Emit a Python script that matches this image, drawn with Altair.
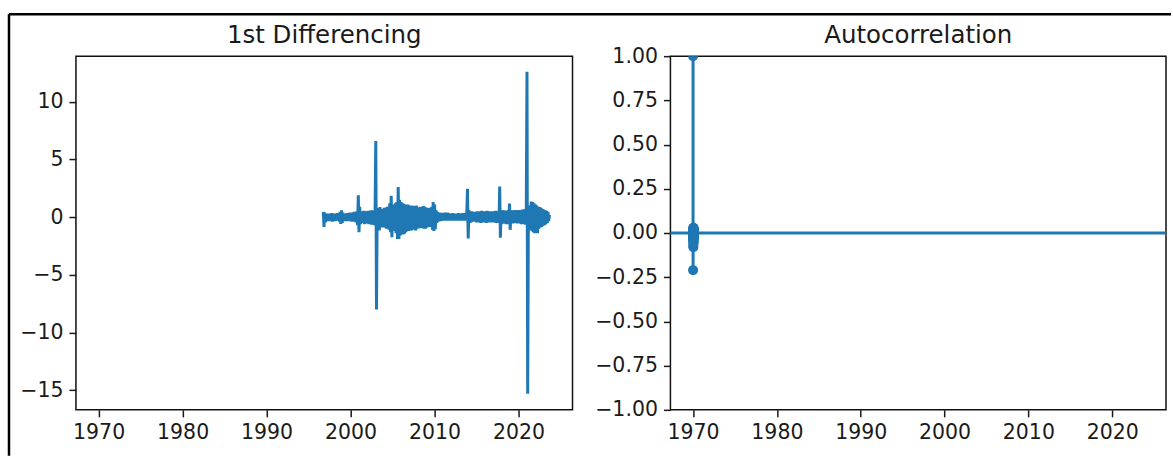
import altair as alt
import pandas as pd

# ---------------- data ----------------
BLUE = "#1f77b4"

# 1st differencing: one value per month, alternating around the band envelope
diff_start_year = 1996
diff_start_month = 10
diff_values = [
    0.45, -0.85, 0.40,                                                              # 1996 Oct-Dec
    -0.45, 0.30, -0.35, 0.28, -0.30, 0.30, -0.35, 0.30, -0.30, 0.35, -0.40, 0.30,   # 1997
    -0.30, 0.30, -0.35, 0.30, -0.30, 0.35, -0.30, 0.35, -0.40, 0.45, -0.58, 0.58,   # 1998
    -0.50, 0.40, -0.35, 0.30, -0.35, 0.30, -0.30, 0.35, -0.35, 0.30, -0.35, 0.40,   # 1999
    -0.35, 0.40, -0.40, 0.35, -0.40, 0.45, -0.40, 0.40, -0.45, 0.50, -0.70, 1.90,   # 2000
    -1.30, 0.90, -0.60, 0.50, -0.50, 0.45, -0.50, 0.55, -0.60, 0.50, -0.55, 0.50,   # 2001
    -0.50, 0.55, -0.60, 0.50, -0.55, 0.60, -0.65, 0.55, -0.60, 0.60, -0.70, 0.65,   # 2002
    6.60, -8.00, 0.80, -1.00, 0.70, -1.15, 0.87, -0.90, 0.60, -0.80, 0.70, -0.90,   # 2003
    0.80, -0.90, 0.70, -1.00, 0.90, -0.80, 0.85, -1.10, 1.20, -1.30, 1.85, -1.75,   # 2004
    1.00, -1.20, 1.10, -1.00, 1.20, -1.40, 1.30, -1.90, 2.60, -1.90, 1.50, -1.60,   # 2005
    1.30, -1.40, 1.20, -1.50, 1.15, -1.44, 1.10, -1.30, 1.00, -1.20, 1.10, -1.20,   # 2006
    1.00, -1.10, 0.95, -1.15, 1.00, -1.10, 0.90, -1.00, 0.95, -1.15, 1.00, -1.00,   # 2007
    0.85, -0.90, 0.80, -0.95, 0.90, -0.95, 0.85, -0.90, 0.95, -1.00, 0.90, -1.00,   # 2008
    0.80, -0.90, 0.75, -0.80, 0.80, -0.85, 0.75, -0.80, 0.90, -1.10, 1.30, -1.20,   # 2009
    1.10, -1.05, 0.60, -0.50, 0.45, -0.40, 0.40, -0.35, 0.40, -0.35, 0.35, -0.30,   # 2010
    0.35, -0.30, 0.40, -0.30, 0.35, -0.30, 0.40, -0.30, 0.35, -0.30, 0.30, -0.30,   # 2011
    0.30, -0.30, 0.35, -0.25, 0.30, -0.30, 0.30, -0.25, 0.30, -0.30, 0.35, -0.30,   # 2012
    0.30, -0.25, 0.30, -0.30, 0.35, -0.30, 0.30, -0.30, 0.35, -0.30, 0.40, 2.45,    # 2013
    -1.84, 0.60, -0.50, 0.50, -0.45, 0.50, -0.40, 0.45, -0.40, 0.45, -0.40, 0.45,   # 2014
    -0.45, 0.50, -0.40, 0.45, -0.45, 0.50, -0.50, 0.55, -0.45, 0.50, -0.40, 0.45,   # 2015
    -0.45, 0.50, -0.50, 0.55, -0.45, 0.50, -0.45, 0.50, -0.40, 0.45, -0.45, 0.50,   # 2016
    -0.45, 0.50, -0.45, 0.55, -0.50, 0.50, -0.45, 0.50, -0.50, 2.65, -1.78, 0.60,   # 2017
    -0.60, 0.55, -0.50, 0.60, -0.55, 0.50, -0.60, 0.55, -0.50, 0.60, -0.60, 1.18,   # 2018
    -1.10, 0.60, -0.55, 0.50, -0.55, 0.60, -0.50, 0.55, -0.50, 0.60, -0.55, 0.60,   # 2019
    -0.50, 0.60, -0.55, 0.55, -0.60, 0.65, -0.55, 0.60, -0.60, 0.70, -0.65, 0.80,   # 2020
    12.60, -15.30, 0.90, -0.80, 1.00, -1.10, 1.35, -1.20, 1.30, -1.30, 1.20, -1.40, # 2021
    1.10, -1.20, 1.00, -1.40, 0.90, -1.00, 0.87, -0.90, 0.80, -0.85, 0.70, -0.75,   # 2022
    0.65, -0.70, 0.60, -0.60, 0.55, -0.50, 0.45, -0.35, 0.20,                       # 2023 Jan-Sep
]

# autocorrelation, lags 0..38 (plotted as days after 1970-01-01)
acf_values = [
    1.00, -0.21, -0.02, 0.01, -0.03, 0.02, -0.05, 0.03, -0.07, -0.01,
    0.02, -0.04, 0.01, -0.08, 0.02, -0.02, 0.01, -0.03, 0.02, -0.06,
    0.01, -0.02, 0.03, -0.01, -0.04, 0.02, -0.01, 0.01, -0.05, 0.02,
    -0.02, 0.01, -0.03, 0.02, -0.01, 0.01, -0.02, 0.02, -0.01,
]

x_ticks = [1970, 1980, 1990, 2000, 2010, 2020]
x_domain = [1967.3, 2026.42]
left_y_ticks = [-15, -10, -5, 0, 5, 10]
left_y_domain = [-16.7, 13.95]
right_y_ticks = [-1.0, -0.75, -0.5, -0.25, 0.0, 0.25, 0.5, 0.75, 1.0]
right_y_domain = [-1.0, 1.0]

titles = ["1st Differencing", "Autocorrelation"]

# ---------------- tables ----------------
diff_t = [diff_start_year + (diff_start_month - 1 + i) / 12 for i in range(len(diff_values))]
df_diff = pd.DataFrame({"t": diff_t, "v": diff_values, "i": range(len(diff_values))})
df_acf = pd.DataFrame({"t": [1970 + lag / 365.25 for lag in range(len(acf_values))],
                       "acf": acf_values})
one = pd.DataFrame({"a": [0]})

W_L, W_R, H = 497, 496, 354
GAP = 98
FRAME = 2.5
TITLE_Y = -13
TEXT = "#1a1a1a"

x_axis = alt.Axis(values=x_ticks, format="d", title=None, labelFlush=False, grid=False)
x_scale = alt.Scale(domain=x_domain, nice=False, zero=False)


def panel_title(text, width):
    return alt.Chart(one).mark_text(
        font="DejaVu Sans", fontSize=24.5, color=TEXT, align="center",
        baseline="alphabetic",
    ).encode(x=alt.value(width / 2), y=alt.value(TITLE_Y), text=alt.value(text))


# ---------------- left panel ----------------
diff_line = alt.Chart(df_diff).mark_line(color=BLUE, strokeWidth=3, clip=True).encode(
    x=alt.X("t:Q", scale=x_scale, axis=x_axis),
    y=alt.Y("v:Q", scale=alt.Scale(domain=left_y_domain, nice=False, zero=False),
            axis=alt.Axis(values=left_y_ticks, format="d", title=None, grid=False)),
    order="i:Q",
)
# outer frame of the screenshot: top edge across the whole figure and left edge
frame_top = alt.Chart(one).mark_rule(color="black", strokeWidth=FRAME).encode(
    x=alt.value(-67), x2=alt.value(W_L + GAP + W_R + 5), y=alt.value(-42))
frame_left = alt.Chart(one).mark_rule(color="black", strokeWidth=FRAME).encode(
    x=alt.value(-67), y=alt.value(-42), y2=alt.value(400))

left = alt.layer(diff_line, frame_top, frame_left, panel_title(titles[0], W_L)).properties(
    width=W_L, height=H)

# ---------------- right panel ----------------
y_right = alt.Y("acf:Q", scale=alt.Scale(domain=right_y_domain, nice=False, zero=False),
                axis=alt.Axis(values=right_y_ticks, format=".2f", title=None, grid=False))
stems = alt.Chart(df_acf).mark_rule(color=BLUE, strokeWidth=3, clip=True).encode(
    x=alt.X("t:Q", scale=x_scale, axis=x_axis),
    y=y_right,
    y2=alt.datum(0),
)
zero_line = alt.Chart(one).mark_rule(color=BLUE, strokeWidth=3).encode(y=alt.datum(0))
dots = alt.Chart(df_acf).mark_circle(color=BLUE, size=100, opacity=1, clip=True).encode(
    x="t:Q", y="acf:Q")

right = alt.layer(stems, zero_line, dots, panel_title(titles[1], W_R)).properties(
    width=W_R, height=H)

chart = alt.hconcat(left, right, spacing=GAP, bounds="flush").properties(
    padding={"left": 7, "top": 12, "right": 0, "bottom": 0}
).configure_view(
    stroke="#111", strokeWidth=1.5
).configure_axis(
    labelFont="DejaVu Sans", labelFontSize=20.5, labelColor=TEXT,
    tickColor=TEXT, tickSize=7, tickWidth=1.5, labelPadding=6,
    domain=False, grid=False,
)

chart.save("out.html", embed_options={"renderer": "svg", "actions": False})
